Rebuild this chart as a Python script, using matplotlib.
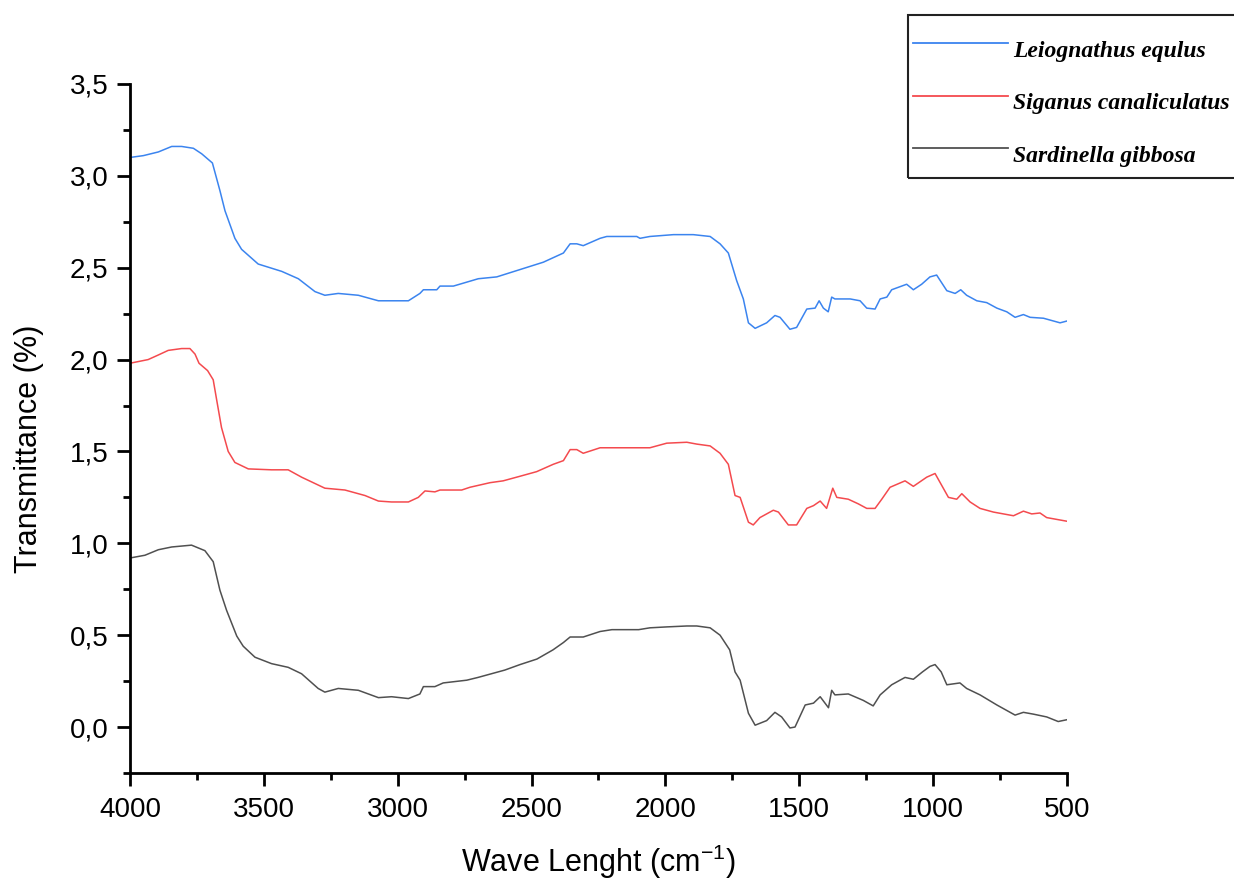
import matplotlib
matplotlib.use("Agg")
import matplotlib.pyplot as plt
from matplotlib.ticker import MultipleLocator, FuncFormatter
from matplotlib.lines import Line2D
from matplotlib.patches import Rectangle

plt.rcParams["font.family"] = ["Liberation Sans", "DejaVu Sans"]
plt.rcParams["mathtext.fontset"] = "custom"
plt.rcParams["mathtext.rm"] = "Liberation Sans"
plt.rcParams["mathtext.default"] = "regular"

# dalga sayisi (cm-1) ve gecirgenlik degerleri
leio_x = [4000, 3950, 3894, 3844, 3807, 3763, 3732, 3692, 3664, 3645, 3608, 3583, 3521, 3433,
          3371, 3309, 3272, 3222, 3147, 3072, 2960, 2917, 2904, 2854, 2842, 2792, 2699, 2630,
          2543, 2456, 2381, 2356, 2331, 2307, 2244, 2219, 2107, 2095, 2058, 1970, 1896, 1833,
          1796, 1765, 1734, 1709, 1690, 1665, 1622, 1591, 1572, 1535, 1510, 1472, 1441, 1426,
          1410, 1392, 1379, 1367, 1310, 1273, 1248, 1217, 1198, 1173, 1155, 1099, 1074, 1043,
          1012, 987, 949, 918, 897, 875, 837, 800, 762, 725, 694, 663, 638, 588, 526, 500]
leio_y = [3.10, 3.11, 3.13, 3.16, 3.16, 3.15, 3.12, 3.07, 2.92, 2.81, 2.66, 2.60, 2.52, 2.48,
          2.44, 2.37, 2.35, 2.36, 2.35, 2.32, 2.32, 2.36, 2.38, 2.38, 2.40, 2.40, 2.44, 2.45,
          2.49, 2.53, 2.58, 2.63, 2.63, 2.62, 2.66, 2.67, 2.67, 2.66, 2.67, 2.68, 2.68, 2.67,
          2.63, 2.58, 2.43, 2.33, 2.20, 2.17, 2.20, 2.24, 2.23, 2.165, 2.175, 2.275, 2.28, 2.32,
          2.28, 2.26, 2.34, 2.33, 2.33, 2.32, 2.28, 2.275, 2.33, 2.34, 2.38, 2.41, 2.38, 2.41,
          2.45, 2.46, 2.375, 2.36, 2.38, 2.35, 2.32, 2.31, 2.28, 2.26, 2.23, 2.245, 2.23, 2.225,
          2.20, 2.21]

sig_x = [4000, 3932, 3894, 3857, 3807, 3776, 3757, 3742, 3710, 3689, 3676, 3658, 3633, 3608,
         3558, 3471, 3409, 3359, 3272, 3197, 3122, 3072, 3023, 2960, 2923, 2898, 2861, 2842,
         2761, 2730, 2655, 2606, 2543, 2481, 2419, 2381, 2356, 2331, 2307, 2244, 2058, 1995,
         1920, 1883, 1833, 1796, 1765, 1740, 1721, 1690, 1672, 1647, 1622, 1597, 1578, 1541,
         1510, 1472, 1447, 1422, 1398, 1375, 1360, 1317, 1280, 1248, 1217, 1192, 1161, 1105,
         1074, 1024, 993, 943, 912, 893, 862, 825, 775, 700, 663, 632, 601, 576, 538, 500]
sig_y = [1.98, 2.00, 2.025, 2.05, 2.06, 2.06, 2.03, 1.98, 1.94, 1.89, 1.78, 1.63, 1.50, 1.44,
         1.405, 1.40, 1.40, 1.36, 1.30, 1.29, 1.26, 1.23, 1.225, 1.225, 1.25, 1.285, 1.28, 1.29,
         1.29, 1.305, 1.33, 1.34, 1.365, 1.39, 1.43, 1.45, 1.51, 1.51, 1.49, 1.52, 1.52, 1.545,
         1.55, 1.54, 1.53, 1.49, 1.43, 1.26, 1.25, 1.115, 1.10, 1.14, 1.16, 1.18, 1.17, 1.10,
         1.10, 1.19, 1.205, 1.23, 1.19, 1.30, 1.25, 1.24, 1.215, 1.19, 1.19, 1.24, 1.305, 1.34,
         1.31, 1.36, 1.38, 1.25, 1.24, 1.27, 1.225, 1.19, 1.17, 1.15, 1.175, 1.16, 1.165, 1.14,
         1.13, 1.12]

sard_x = [4000, 3944, 3894, 3844, 3770, 3720, 3689, 3664, 3639, 3601, 3577, 3533, 3471, 3409,
          3359, 3297, 3272, 3222, 3147, 3072, 3023, 2960, 2917, 2904, 2861, 2830, 2742, 2700,
          2650, 2600, 2543, 2480, 2420, 2381, 2356, 2331, 2307, 2244, 2200, 2100, 2058, 1995,
          1920, 1883, 1833, 1796, 1760, 1740, 1721, 1690, 1665, 1622, 1591, 1566, 1535, 1516,
          1478, 1447, 1422, 1391, 1379, 1367, 1317, 1261, 1224, 1198, 1155, 1124, 1105, 1074,
          1040, 1012, 993, 970, 949, 900, 875, 825, 762, 694, 663, 625, 576, 533, 500]
sard_y = [0.92, 0.935, 0.965, 0.98, 0.99, 0.96, 0.90, 0.745, 0.635, 0.495, 0.44, 0.38, 0.345, 0.325,
          0.29, 0.21, 0.19, 0.21, 0.20, 0.16, 0.165, 0.155, 0.18, 0.22, 0.22, 0.24, 0.255, 0.27,
          0.29, 0.31, 0.34, 0.37, 0.42, 0.46, 0.49, 0.49, 0.49, 0.52, 0.53, 0.53, 0.54, 0.545,
          0.55, 0.55, 0.54, 0.50, 0.42, 0.30, 0.255, 0.075, 0.01, 0.035, 0.08, 0.055, -0.005, 0.0,
          0.12, 0.13, 0.165, 0.105, 0.20, 0.175, 0.18, 0.145, 0.115, 0.175, 0.23, 0.255, 0.27, 0.26,
          0.30, 0.33, 0.34, 0.30, 0.23, 0.24, 0.21, 0.175, 0.12, 0.065, 0.08, 0.07, 0.055, 0.03, 0.04]

labels = ["Leiognathus equlus", "Siganus canaliculatus", "Sardinella gibbosa"]
colors = ["#3b84ef", "#f44a4e", "#505050"]

fig = plt.figure(figsize=(12.34, 8.84), dpi=100)
ax = fig.add_axes([0.1053, 0.1256, 0.7594, 0.7794])

for xs, ys, c in zip([leio_x, sig_x, sard_x], [leio_y, sig_y, sard_y], colors):
    ax.plot(xs, ys, color=c, linewidth=1.1)

ax.set_xlim(4000, 500)
ax.set_ylim(-0.25, 3.5)
ax.spines["top"].set_visible(False)
ax.spines["right"].set_visible(False)
ax.spines["left"].set_linewidth(2)
ax.spines["bottom"].set_linewidth(2)

ax.xaxis.set_major_locator(MultipleLocator(500))
ax.xaxis.set_minor_locator(MultipleLocator(250))
ax.yaxis.set_major_locator(MultipleLocator(0.5))
ax.yaxis.set_minor_locator(MultipleLocator(0.25))
ax.yaxis.set_major_formatter(FuncFormatter(lambda v, p: f"{v:.1f}".replace(".", ",")))
ax.tick_params(which="major", length=9.5, width=2, labelsize=20)
ax.tick_params(which="minor", length=5, width=2)
ax.tick_params(axis="x", which="major", pad=8)
ax.tick_params(axis="y", which="major", pad=6)

ax.set_xlabel("Wave Lenght (cm$^{-1}$)", fontsize=22, labelpad=14)
ax.set_ylabel("Transmittance (%)", fontsize=22)
ax.yaxis.set_label_coords(-0.092, 0.47)

# lejant kutusu (elle)
W, H = 1234, 884
fig.add_artist(Rectangle((908 / W, 1 - 178 / H), 330 / W, 163 / H, transform=fig.transFigure,
                         fill=False, edgecolor="#222222", linewidth=1.5))
for i, (lab, c) in enumerate(zip(labels, colors)):
    ly = 43 + i * 52.5
    fig.add_artist(Line2D([913 / W, 1008 / W], [1 - ly / H, 1 - ly / H],
                          transform=fig.transFigure, color=c, linewidth=1.3))
    fig.text(1013 / W, 1 - (ly + 14) / H, lab, fontsize=17, family="Liberation Serif",
             fontweight="bold", style="italic", va="baseline", ha="left")

plt.savefig("out.png", dpi=100)
